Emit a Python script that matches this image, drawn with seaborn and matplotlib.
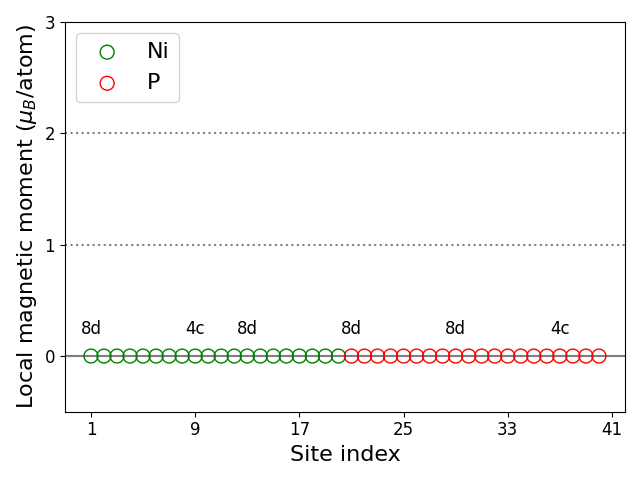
import matplotlib
matplotlib.use("Agg")
import matplotlib.pyplot as plt
import seaborn as sns
import pandas as pd

ni_sites = list(range(1, 21))
ni_moments = [0.0] * 20
p_sites = list(range(21, 41))
p_moments = [0.0] * 20
wyckoff_pos = [1, 9, 13, 21, 29, 37]
wyckoff_labels = ["8d", "4c", "8d", "8d", "8d", "4c"]
xticks = [1, 9, 17, 25, 33, 41]

df_ni = pd.DataFrame({"site": ni_sites, "m": ni_moments})
df_p = pd.DataFrame({"site": p_sites, "m": p_moments})

fig, ax = plt.subplots(figsize=(6.4, 4.8), dpi=100)
ax.axhline(0, color="gray", lw=1.5, zorder=1)
ax.axhline(1, color="gray", lw=1.5, ls=":", zorder=1)
ax.axhline(2, color="gray", lw=1.5, ls=":", zorder=1)
sns.scatterplot(data=df_ni, x="site", y="m", ax=ax, marker="o", s=100,
                facecolor="none", edgecolor="green", linewidth=1, label="Ni", zorder=3)
sns.scatterplot(data=df_p, x="site", y="m", ax=ax, marker="o", s=100,
                facecolor="none", edgecolor="red", linewidth=1, label="P", zorder=3)
for xp, lab in zip(wyckoff_pos, wyckoff_labels):
    ax.text(xp, 0.24, lab, ha="center", va="center", fontsize=12)

ax.set_xlim(-1, 42)
ax.set_ylim(-0.5, 3)
ax.set_xticks(xticks)
ax.set_yticks([0, 1, 2, 3])
ax.tick_params(labelsize=12)
ax.set_xlabel("Site index", fontsize=16)
ax.set_ylabel(r"Local magnetic moment ($\mu_B$/atom)", fontsize=16)
ax.legend(loc="upper left", fontsize=16)
fig.tight_layout()
fig.savefig("out.png", dpi=100)
